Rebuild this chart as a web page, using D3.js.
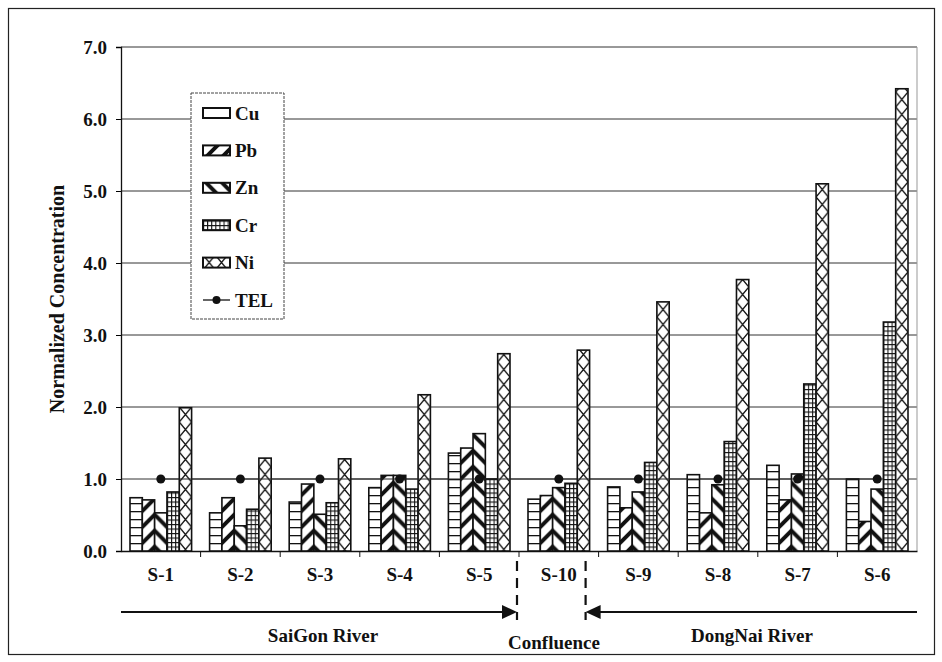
<!DOCTYPE html>
<html>
<head>
<meta charset="utf-8">
<script src="https://cdn.jsdelivr.net/npm/d3@7"></script>
<style>
  body { margin: 0; background: #fff; }
  svg text { font-family: "Liberation Serif", "DejaVu Serif", serif; font-weight: bold; fill: #111; }
</style>
</head>
<body>
<svg id="chart" width="942" height="662"></svg>
<script>
// data
const sites = ["S-1", "S-2", "S-3", "S-4", "S-5", "S-10", "S-9", "S-8", "S-7", "S-6"]
const metals = ["Cu", "Pb", "Zn", "Cr", "Ni"]
const cu = [0.74, 0.53, 0.68, 0.88, 1.36, 0.72, 0.89, 1.06, 1.19, 1.00]
const pb = [0.71, 0.74, 0.93, 1.05, 1.43, 0.77, 0.60, 0.53, 0.71, 0.41]
const zn = [0.53, 0.35, 0.51, 1.05, 1.63, 0.88, 0.82, 0.92, 1.07, 0.86]
const cr = [0.82, 0.58, 0.67, 0.86, 1.00, 0.94, 1.23, 1.52, 2.32, 3.18]
const ni = [1.99, 1.29, 1.28, 2.17, 2.74, 2.79, 3.46, 3.77, 5.10, 6.42]
const tel = [1, 1, 1, 1, 1, 1, 1, 1, 1, 1]
const yTicks = [0, 1, 2, 3, 4, 5, 6, 7]
const series = { Cu: cu, Pb: pb, Zn: zn, Cr: cr, Ni: ni }

const FS = 19
const svg = d3.select("#chart")

// outer frame
svg.append("rect").attr("x", 8.5).attr("y", 8.5).attr("width", 926).attr("height", 646)
    .attr("fill", "none").attr("stroke", "#222").attr("stroke-width", 1.2)

const margin = { left: 121, right: 25, top: 47, bottom: 111 }
const W = 942 - margin.left - margin.right
const H = 662 - margin.top - margin.bottom
const g = svg.append("g").attr("transform", `translate(${margin.left},${margin.top})`)

const x = d3.scaleBand().domain(sites).range([0, W]).paddingInner(0).paddingOuter(0)
const xm = d3.scaleBand().domain(metals).range([9, x.bandwidth() - 9]).padding(0)
const y = d3.scaleLinear().domain([0, 7]).range([H, 0])
const bw = xm.bandwidth()

// fill patterns, tiles anchored at each bar's left edge
const defs = svg.append("defs")
const pat = (id, w, h, px, py, draw) => {
    const p = defs.append("pattern").attr("id", id).attr("patternUnits", "userSpaceOnUse")
        .attr("x", px).attr("y", py).attr("width", w).attr("height", h)
    p.append("rect").attr("width", w).attr("height", h).attr("fill", "#fff")
    draw(p)
}
const makePatterns = (suffix, offset) => {
    pat("p-Cu" + suffix, bw, 8, offset("Cu"), 0, p => {
        p.append("line").attr("x1", 0).attr("x2", bw).attr("y1", 0.6).attr("y2", 0.6).attr("stroke", "#111").attr("stroke-width", 1.4)
    })
    pat("p-Pb" + suffix, 16, 16, offset("Pb"), 0, p => {
        p.append("path").attr("d", "M-4,20 L20,-4 M-12,12 L12,-12 M4,28 L28,4")
            .attr("stroke", "#111").attr("stroke-width", 4)
    })
    pat("p-Zn" + suffix, 16, 16, offset("Zn"), 16 - bw, p => {
        p.append("path").attr("d", "M-4,-4 L20,20 M-12,4 L12,28 M4,-12 L28,12")
            .attr("stroke", "#111").attr("stroke-width", 4)
    })
    pat("p-Cr" + suffix, bw / 3, 4.5, offset("Cr"), 0, p => {
        p.append("path").attr("d", `M0,0.5 H${bw / 3} M0.5,0 V4.5`).attr("stroke", "#111").attr("stroke-width", 1.1)
    })
    pat("p-Ni" + suffix, bw, 15, offset("Ni"), 0, p => {
        p.append("path").attr("d", `M0,0 L${bw},15 M${bw},0 L0,15`).attr("stroke", "#111").attr("stroke-width", 1.4)
    })
}
makePatterns("", m => xm(m))
makePatterns("-lg", () => 203)

// gridlines
g.append("g").selectAll("line").data(yTicks.slice(1)).join("line")
    .attr("x1", 0).attr("x2", W).attr("y1", d => y(d)).attr("y2", d => y(d))
    .attr("stroke", "#333").attr("stroke-width", 1)
g.append("line").attr("x1", W).attr("x2", W).attr("y1", 0).attr("y2", H)
    .attr("stroke", "#999").attr("stroke-width", 1)

// y axis
const yAxis = g.append("g").call(d3.axisLeft(y).tickValues(yTicks).tickFormat(d3.format(".1f")).tickSize(5))
yAxis.select(".domain").attr("stroke", "#111").attr("stroke-width", 1.3)
yAxis.selectAll("text").attr("font-size", FS).attr("dx", -6).attr("dy", "0.35em")

// x axis
const xAxis = g.append("g").attr("transform", `translate(0,${H})`)
    .call(d3.axisBottom(x).tickSize(0).tickPadding(17))
xAxis.select(".domain").attr("stroke", "#111").attr("stroke-width", 1.3)
xAxis.selectAll("text").attr("font-size", FS)
g.append("g").attr("transform", `translate(0,${H})`).selectAll("line")
    .data(sites.slice(1)).join("line")
    .attr("x1", d => x(d)).attr("x2", d => x(d)).attr("y1", 0).attr("y2", 6)
    .attr("stroke", "#111")

// bars
const groups = g.append("g").selectAll("g").data(sites).join("g")
    .attr("transform", d => `translate(${x(d)},0)`)
groups.selectAll("rect").data((s, i) => metals.map(m => ({ m, v: series[m][i] }))).join("rect")
    .attr("x", d => xm(d.m)).attr("width", bw)
    .attr("y", d => y(d.v)).attr("height", d => H - y(d.v))
    .attr("fill", d => `url(#p-${d.m})`).attr("stroke", "#111").attr("stroke-width", 1.6)

// TEL line + markers
const telLine = d3.line().x((d, i) => x(sites[i]) + x.bandwidth() / 2).y(d => y(d))
g.append("path").datum(tel).attr("d", telLine).attr("fill", "none").attr("stroke", "#222").attr("stroke-width", 1)
g.append("g").selectAll("circle").data(tel).join("circle")
    .attr("cx", (d, i) => x(sites[i]) + x.bandwidth() / 2).attr("cy", d => y(d)).attr("r", 4.5)
    .attr("fill", "#111")

// y axis title
svg.append("text").attr("transform", "translate(64,299) rotate(-90)")
    .attr("text-anchor", "middle").attr("font-size", FS + 1).text("Normalized Concentration")

// legend
const lg = svg.append("g")
lg.append("rect").attr("x", 191).attr("y", 93).attr("width", 93).attr("height", 226)
    .attr("fill", "#fff").attr("stroke", "#444").attr("stroke-width", 1).attr("stroke-dasharray", "3,1")
const legendItems = metals.concat(["TEL"])
const ly = d3.scalePoint().domain(legendItems).range([113, 300])
legendItems.forEach(k => {
    if (k === "TEL") {
        lg.append("line").attr("x1", 203).attr("x2", 230).attr("y1", ly(k)).attr("y2", ly(k)).attr("stroke", "#111").attr("stroke-width", 1.3)
        lg.append("circle").attr("cx", 216.5).attr("cy", ly(k)).attr("r", 4).attr("fill", "#111")
    } else {
        lg.append("rect").attr("x", 203).attr("y", ly(k) - 5).attr("width", 27).attr("height", 10)
            .attr("fill", k === "Cu" ? "#fff" : `url(#p-${k}-lg)`).attr("stroke", "#111").attr("stroke-width", 2)
    }
    lg.append("text").attr("x", 235).attr("y", ly(k)).attr("dy", "0.35em").attr("font-size", FS).text(k)
})

// river annotations below the axis
const ann = svg.append("g")
const splitL = margin.left + x("S-10") - 2
const splitR = margin.left + x("S-9") - 13
const arrowY = 612
;[splitL, splitR].forEach(xx => {
    ann.append("line").attr("x1", xx).attr("x2", xx).attr("y1", 561).attr("y2", 620)
        .attr("stroke", "#111").attr("stroke-width", 2.2).attr("stroke-dasharray", "10,7")
})
ann.append("line").attr("x1", margin.left).attr("x2", splitL - 12).attr("y1", arrowY).attr("y2", arrowY)
    .attr("stroke", "#111").attr("stroke-width", 2.2)
ann.append("path").attr("d", `M${splitL},${arrowY} L${splitL - 15},${arrowY - 7} L${splitL - 15},${arrowY + 7} Z`).attr("fill", "#111")
ann.append("line").attr("x1", margin.left + W).attr("x2", splitR + 12).attr("y1", arrowY).attr("y2", arrowY)
    .attr("stroke", "#111").attr("stroke-width", 2.2)
ann.append("path").attr("d", `M${splitR},${arrowY} L${splitR + 15},${arrowY - 7} L${splitR + 15},${arrowY + 7} Z`).attr("fill", "#111")

ann.append("text").attr("x", 323).attr("y", 642).attr("text-anchor", "middle").attr("font-size", FS).text("SaiGon River")
ann.append("text").attr("x", 554).attr("y", 649).attr("text-anchor", "middle").attr("font-size", FS).text("Confluence")
ann.append("text").attr("x", 752).attr("y", 642).attr("text-anchor", "middle").attr("font-size", FS).text("DongNai River")
</script>
</body>
</html>
